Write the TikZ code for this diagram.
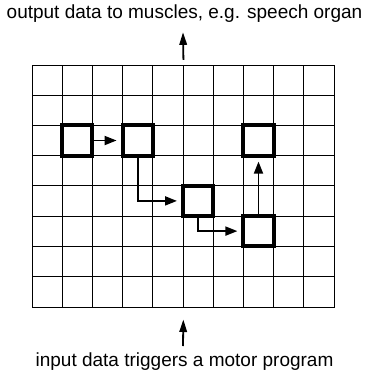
\documentclass[tikz,border=0pt]{standalone}
\usepackage{fontspec}
\setmainfont{Liberation Sans}
\usetikzlibrary{arrows.meta}
\begin{document}
\begin{tikzpicture}[x=1pt,y=-1pt,
  gridline/.style={line width=1pt, black},
  cellbox/.style={draw, line width=4pt, minimum size=30.2pt, inner sep=0pt},
  flow/.style={line width=1.8pt, -{Triangle[length=12pt,width=9pt]}, shorten >=4pt},
  io/.style={line width=1.8pt, -{Triangle[length=12.5pt,width=7.5pt]}},
  lbltext/.style={font=\fontsize{19}{22}\selectfont, inner sep=0pt}
]
\useasboundingbox (0,0) rectangle (366,376);
\node[draw, line width=1pt, minimum width=302pt, minimum height=241.7pt, inner sep=0pt, anchor=north west] (grid) at (32,65) {};
\foreach \i in {1,...,9} \draw[gridline] ({32+\i*30.2},65) -- ({32+\i*30.2},306.7);
\foreach \j in {1,...,7} \draw[gridline] (32,{65+\j*30.2}) -- (334,{65+\j*30.2});

\node[cellbox] (a) at (77.3,140.5) {};
\node[cellbox] (b) at (137.7,140.5) {};
\node[cellbox] (c) at (258.5,140.5) {};
\node[cellbox] (d) at (198.1,200.9) {};
\node[cellbox] (e) at (258.5,231.1) {};

\draw[flow] (a.east) -- (b.west);
\draw[flow] (b.south) |- (d.west);
\draw[flow] (d.south) |- (e.west);
\draw[flow] (e.north) -- (c.south);

\node[lbltext, anchor=base] (outtext) at (184.5,18.5) {output data to muscles, e.g. speech organ};
\node[lbltext, anchor=base] (intext) at (184.5,366.5) {input data triggers a motor program};

\coordinate (outtip) at (183,32.3);
\coordinate (inbase) at (183,346);
\draw[io, shorten <=5.2pt] (grid.north) -- (outtip);
\draw[io, shorten >=11.8pt] (inbase) -- (grid.south);
\end{tikzpicture}
\end{document}
